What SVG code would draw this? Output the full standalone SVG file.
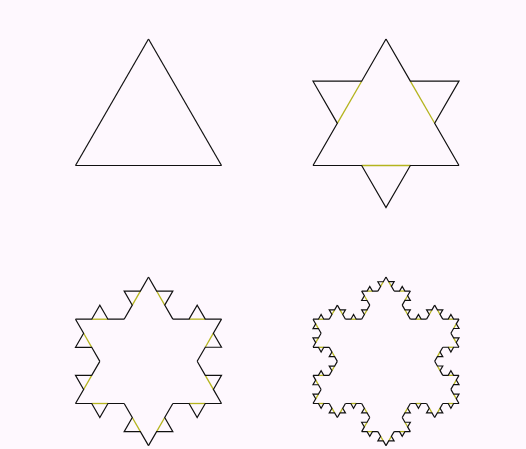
<svg xmlns="http://www.w3.org/2000/svg" xmlns:xlink="http://www.w3.org/1999/xlink" width="526" height="449" viewBox="0 0 526 449">
  <style>
    .k { fill: none; stroke: #111111; stroke-width: 1.2; stroke-linejoin: miter; }
    .y { fill: none; stroke: #b4b41e; stroke-width: 1.3; }
  </style>
  <defs>
    <!-- straight side, length 146 -->
    <path id="s0" class="k" d="M0,0 L146,0"/>
    <!-- level-1 unit, length 146 -->
    <g id="u146">
      <path class="y" d="M48.667,0 L97.333,0"/>
      <path class="k" d="M0,0 L48.667,0 L73,-42.147 L97.333,0 L146,0"/>
    </g>
    <!-- level-1 unit, length 48.667 -->
    <g id="u48">
      <path class="y" d="M16.222,0 L32.444,0"/>
      <path class="k" d="M0,0 L16.222,0 L24.333,-14.049 L32.444,0 L48.667,0"/>
    </g>
    <!-- level-1 unit, length 16.222 -->
    <g id="u16">
      <path class="y" d="M5.407,0 L10.815,0"/>
      <path class="k" d="M0,0 L5.407,0 L8.111,-4.683 L10.815,0 L16.222,0"/>
    </g>
    <!-- level-2 unit from u48, length 146 -->
    <g id="v146">
      <use xlink:href="#u48"/>
      <use xlink:href="#u48" transform="translate(48.667,0) rotate(-60)"/>
      <use xlink:href="#u48" transform="translate(73,-42.147) rotate(60)"/>
      <use xlink:href="#u48" transform="translate(97.333,0)"/>
    </g>
    <!-- level-2 unit from u16, length 48.667 -->
    <g id="v48">
      <use xlink:href="#u16"/>
      <use xlink:href="#u16" transform="translate(16.222,0) rotate(-60)"/>
      <use xlink:href="#u16" transform="translate(24.333,-14.049) rotate(60)"/>
      <use xlink:href="#u16" transform="translate(32.444,0)"/>
    </g>
    <!-- level-3 unit, length 146 -->
    <g id="w146">
      <use xlink:href="#v48"/>
      <use xlink:href="#v48" transform="translate(48.667,0) rotate(-60)"/>
      <use xlink:href="#v48" transform="translate(73,-42.147) rotate(60)"/>
      <use xlink:href="#v48" transform="translate(97.333,0)"/>
    </g>
  </defs>

  <rect width="526" height="449" fill="#fef8fe"/>

  <g id="iteration0">
    <use xlink:href="#s0" transform="translate(148.5,39) rotate(60)"/>
    <use xlink:href="#s0" transform="translate(221.5,165.5) rotate(180)"/>
    <use xlink:href="#s0" transform="translate(75.5,165.5) rotate(-60)"/>
  </g>

  <g id="iteration1" transform="translate(237.5,0)">
    <use xlink:href="#u146" transform="translate(148.5,39) rotate(60)"/>
    <use xlink:href="#u146" transform="translate(221.5,165.5) rotate(180)"/>
    <use xlink:href="#u146" transform="translate(75.5,165.5) rotate(-60)"/>
  </g>

  <g id="iteration2" transform="translate(0,238)">
    <use xlink:href="#v146" transform="translate(148.5,39) rotate(60)"/>
    <use xlink:href="#v146" transform="translate(221.5,165.5) rotate(180)"/>
    <use xlink:href="#v146" transform="translate(75.5,165.5) rotate(-60)"/>
  </g>

  <g id="iteration3" transform="translate(237.5,238)">
    <use xlink:href="#w146" transform="translate(148.5,39) rotate(60)"/>
    <use xlink:href="#w146" transform="translate(221.5,165.5) rotate(180)"/>
    <use xlink:href="#w146" transform="translate(75.5,165.5) rotate(-60)"/>
  </g>
</svg>
